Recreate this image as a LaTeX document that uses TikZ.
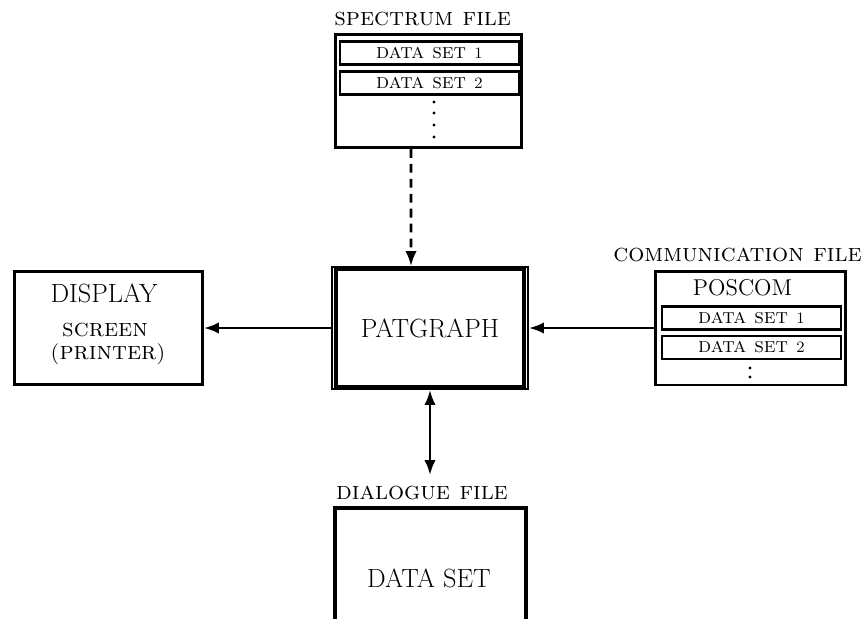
\documentclass[tikz,border=0pt]{standalone}
\usepackage{tikz}
\usetikzlibrary{arrows.meta}

\tikzset{
  filebox/.style={draw, line width=1.7pt, minimum width=3.72cm, minimum height=2.26cm},
  setbox/.style={draw, line width=1.3pt, minimum width=3.58cm, minimum height=0.46cm,
    inner sep=0pt, font=\large\scshape},
  filetitle/.style={font=\Large\scshape, inner sep=0pt},
  bigname/.style={font=\fontsize{15}{18}\selectfont},
  flow/.style={line width=1.5pt, -{Latex[length=8.5pt,width=6.5pt]}},
  bothflow/.style={line width=1.5pt, {Latex[length=8.5pt,width=6.5pt]}-{Latex[length=8.5pt,width=6.5pt]}},
}
\newcommand{\smalldigit}[1]{{\small #1}}

\begin{document}
\begin{tikzpicture}[x=0.02cm,y=-0.02cm]
  \useasboundingbox (0,0) rectangle (864,619);

  % spectrum file
  \node[filetitle, anchor=west] (spclabel) at (334,19) {spectrum file};
  \node[filebox] (spectrum) at (428.5,91) {};
  \node[setbox] (spcset1) at (429.5,53) {data set \smalldigit{1}};
  \node[setbox] (spcset2) at (429.5,83) {data set \smalldigit{2}};
  \foreach \y in {102,113,125,137}
    \fill (434,\y) circle (0.9pt);

  % patgraph
  \node[draw, line width=2.3pt, outer sep=0pt, minimum width=3.76cm,
    minimum height=2.36cm, bigname] (patgraph) at (430,328) {PATGRAPH};
  \node[draw, line width=1.1pt, minimum width=3.92cm, minimum height=2.44cm]
    (patframe) at (430,328) {};

  % display
  \node[filebox, minimum width=3.76cm] (display) at (108.5,328) {};
  \node[bigname] (dispname) at (104,293) {DISPLAY};
  \node[font=\Large\scshape, inner sep=0pt] (dispscreen) at (105,330) {screen};
  \node[font=\Large\scshape, inner sep=0pt] (dispprinter) at (108,354) {{\large(}printer{\large)}};

  % communication file
  \node[filetitle, anchor=east] (comlabel) at (862,255) {communication file};
  \node[filebox, minimum width=3.81cm, minimum height=2.28cm] (comm) at (750.7,328) {};
  \node[font=\fontsize{13}{15}\selectfont] (poscom) at (742.5,287.5) {POSCOM};
  \node[setbox] (comset1) at (751.5,318) {data set \smalldigit{1}};
  \node[setbox] (comset2) at (751.5,347.5) {data set \smalldigit{2}};
  \foreach \y in {368,377}
    \fill (750,\y) circle (0.9pt);

  % dialogue file
  \node[filetitle] (dlglabel) at (422,493) {dialogue file};
  \node[minimum width=3.82cm, minimum height=2.22cm, inner sep=0pt, outer sep=0pt]
    (dialogue) at (430.5,563.5) {};
  \draw[line width=1.9pt] (dialogue.south west) |- (dialogue.north) -| (dialogue.south east);
  \node[bigname] (dlgset) at (429,578.5) {DATA SET};
  \coordinate (dlgtip) at (430,475);

  % connectors
  \draw[flow, dash pattern=on 5pt off 3.5pt]
    ([xshift=-0.35cm]spectrum.south) -- ([xshift=-0.38cm]patframe.north);
  \draw[flow] (patframe.west) -- (display.east);
  \draw[flow] (comm.west) -- (patframe.east);
  \draw[bothflow] (patframe.south) -- (dlgtip);
\end{tikzpicture}
\end{document}
